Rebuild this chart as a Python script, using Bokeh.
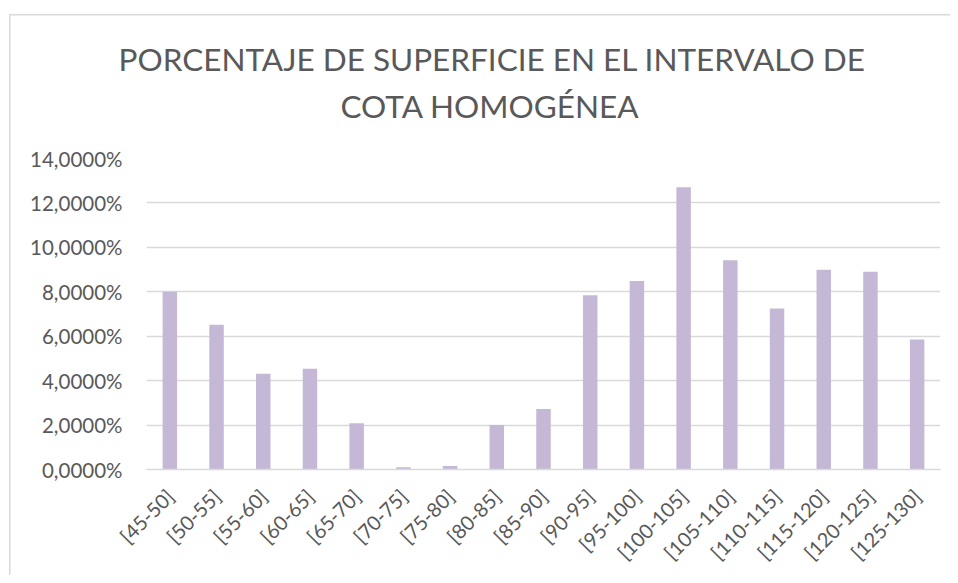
import math
from bokeh.plotting import figure
from bokeh.models import Range1d, FixedTicker, CustomJSTickFormatter, Title
from bokeh.embed import file_html
from bokeh.resources import INLINE

categories = ["[45-50]", "[50-55]", "[55-60]", "[60-65]", "[65-70]", "[70-75]", "[75-80]",
              "[80-85]", "[85-90]", "[90-95]", "[95-100]", "[100-105]", "[105-110]",
              "[110-115]", "[115-120]", "[120-125]", "[125-130]"]
percent = [8.00, 6.52, 4.31, 4.53, 2.08, 0.10, 0.16, 2.00, 2.72, 7.84, 8.48, 12.71,
           9.42, 7.25, 8.99, 8.90, 5.85]
y_ticks = [0, 2, 4, 6, 8, 10, 12, 14]
title_line1 = "PORCENTAJE DE SUPERFICIE EN EL INTERVALO DE"
title_line2 = "COTA HOMOGÉNEA"

FONT = "Lato"
GRAY = "#595959"

p = figure(width=950, height=575, x_range=categories, y_range=Range1d(0, 14),
           output_backend="svg", toolbar_location=None,
           min_border_left=146, min_border_right=10, min_border_top=158,
           min_border_bottom=105)
p.title = None
t2 = Title(text=title_line2, align="left", offset=194, text_font=FONT,
           text_font_size="31.5px", text_color=GRAY, text_font_style="normal",
           standoff=68)
t1 = Title(text=title_line1, align="left", offset=-28, text_font=FONT,
           text_font_size="31.5px", text_color=GRAY, text_font_style="normal",
           standoff=-54)
p.add_layout(t2, "above")
p.add_layout(t1, "above")

p.vbar(x=categories, top=percent, width=0.31, fill_color="#C5B8D6", line_color=None)

p.outline_line_color = None
p.background_fill_color = "white"
p.border_fill_color = "white"
p.border_fill_alpha = 0
p.styles = {
    "background-color": "white",
    "background-image": "linear-gradient(#D9D9D9, #D9D9D9), linear-gradient(#D9D9D9, #D9D9D9)",
    "background-size": "1.5px 100%, 100% 1.5px",
    "background-position": "9px 14px, 9px 14px",
    "background-repeat": "no-repeat",
}

p.xgrid.grid_line_color = None
p.ygrid.grid_line_color = "#D9D9D9"
p.ygrid.grid_line_width = 1.5
p.ygrid.ticker = FixedTicker(ticks=y_ticks)

p.yaxis.ticker = FixedTicker(ticks=y_ticks)
p.yaxis.formatter = CustomJSTickFormatter(code="return tick.toFixed(4).replace('.', ',') + '%';")
p.yaxis.axis_line_color = None
p.yaxis.major_tick_line_color = None
p.yaxis.minor_tick_line_color = None
p.yaxis.major_tick_out = 0
p.yaxis.major_label_standoff = 24
p.yaxis.major_label_text_font = FONT
p.yaxis.major_label_text_font_size = "20.5px"
p.yaxis.major_label_text_color = GRAY

p.xaxis.axis_line_color = "#D9D9D9"
p.xaxis.axis_line_width = 1.5
p.xaxis.major_tick_line_color = None
p.xaxis.minor_tick_line_color = None
p.xaxis.major_tick_out = 0
p.xaxis.major_label_orientation = math.pi / 4
p.xaxis.major_label_standoff = 23
p.xaxis.major_label_text_font = FONT
p.xaxis.major_label_text_font_size = "20px"
p.xaxis.major_label_text_color = GRAY

open("out.html", "w").write(file_html(p, INLINE))
